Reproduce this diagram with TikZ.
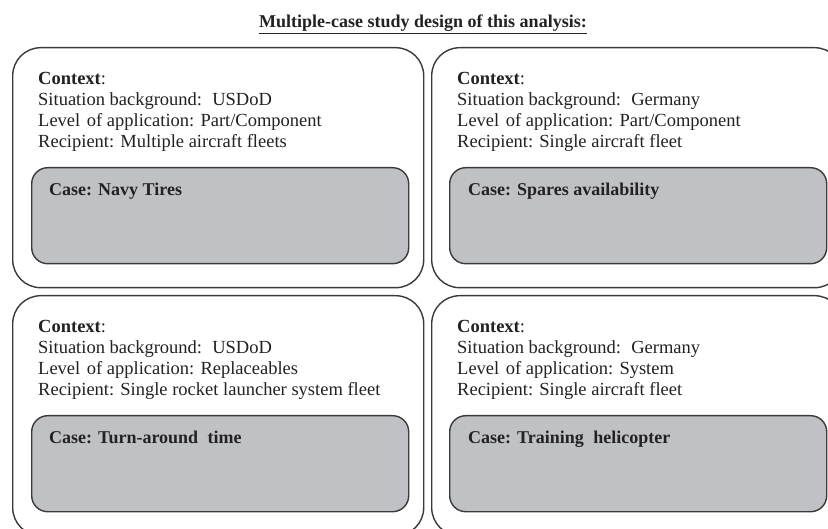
\documentclass[tikz,border=0pt]{standalone}
\usepackage{fontspec}
\setmainfont{Liberation Serif}
\definecolor{linegray}{HTML}{3A3A3A}
\definecolor{casegray}{HTML}{C0C1C5}
\definecolor{textcol}{HTML}{222222}
\begin{document}
\begin{tikzpicture}[x=1pt,y=-1pt,
  outerbox/.style={draw=linegray, line width=1.4pt, rounded corners=28pt, anchor=north west, inner sep=0pt, minimum width=411pt, minimum height=240pt},
  casebox/.style={draw=linegray, fill=casegray, line width=1.4pt, rounded corners=16pt, anchor=north west, inner sep=0pt, minimum width=377pt, minimum height=96pt},
  txt/.style={anchor=base west, inner sep=0pt, font=\fontsize{18.5}{21}\selectfont, text=textcol},
  casetxt/.style={anchor=base west, inner sep=0pt, font=\fontsize{18}{21}\selectfont\bfseries, text=textcol},
  titletxt/.style={anchor=base, inner sep=0pt, font=\fontsize{18}{21}\selectfont\bfseries, text=textcol}
]
\path[use as bounding box, fill=white] (0,0) rectangle (828,529);
\clip (0,0) rectangle (828,529);

\node[titletxt] (title) at (423,28) {\underline{Multiple-case study design of this analysis:}};

% top-left
\node[outerbox] (o1) at (12,47) {};
\node[casebox] (c1) at (31,167) {};
\node[txt] (t1a) at (38,85) {\textbf{Context}:};
\node[txt] (t1b) at (38,106) {Situation background:\hspace{4pt} USDoD};
\node[txt] (t1c) at (38,127) {Level\hspace{2pt} of application: Part/Component};
\node[txt] (t1d) at (38,148) {Recipient: Multiple aircraft fleets};
\node[casetxt] (k1) at (49,196) {Case: Navy Tires};

% top-right
\node[outerbox] (o2) at (431,47) {};
\node[casebox] (c2) at (449,167) {};
\node[txt] (t2a) at (457,85) {\textbf{Context}:};
\node[txt] (t2b) at (457,106) {Situation background:\hspace{4pt} Germany};
\node[txt] (t2c) at (457,127) {Level\hspace{2pt} of application: Part/Component};
\node[txt] (t2d) at (457,148) {Recipient: Single aircraft fleet};
\node[casetxt] (k2) at (468,196) {Case: Spares availability};

% bottom-left
\node[outerbox] (o3) at (12,295) {};
\node[casebox] (c3) at (31,415) {};
\node[txt] (t3a) at (38,333) {\textbf{Context}:};
\node[txt] (t3b) at (38,354) {Situation background:\hspace{4pt} USDoD};
\node[txt] (t3c) at (38,375) {Level\hspace{2pt} of application: Replaceables};
\node[txt] (t3d) at (38,396) {Recipient: Single rocket launcher system fleet};
\node[casetxt] (k3) at (49,444) {Case: Turn-around\hspace{5pt} time};

% bottom-right
\node[outerbox] (o4) at (431,295) {};
\node[casebox] (c4) at (449,415) {};
\node[txt] (t4a) at (457,333) {\textbf{Context}:};
\node[txt] (t4b) at (457,354) {Situation background:\hspace{4pt} Germany};
\node[txt] (t4c) at (457,375) {Level\hspace{2pt} of application: System};
\node[txt] (t4d) at (457,396) {Recipient: Single aircraft fleet};
\node[casetxt] (k4) at (468,444) {Case: Training\hspace{5pt} helicopter};
\end{tikzpicture}
\end{document}
